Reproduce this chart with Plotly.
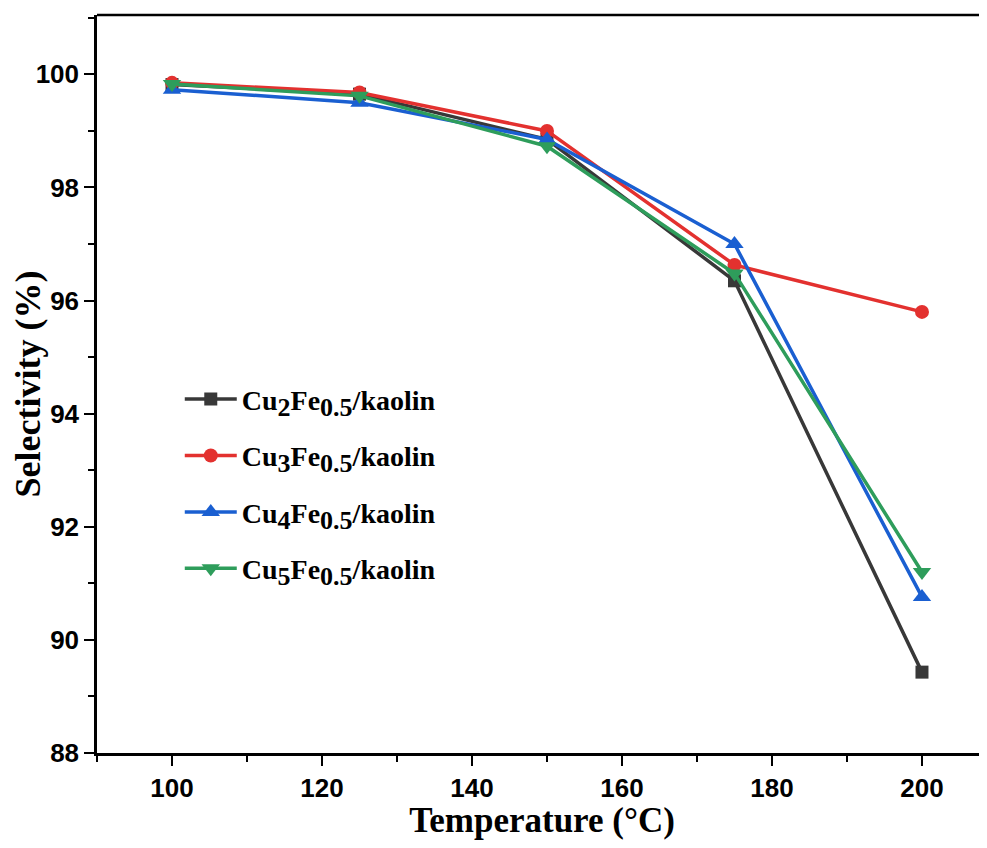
import plotly.graph_objects as go

temperature = [100, 125, 150, 175, 200]
cu2 = [99.82, 99.65, 98.85, 96.35, 89.43]
cu3 = [99.85, 99.68, 99.00, 96.63, 95.80]
cu4 = [99.73, 99.50, 98.85, 97.00, 90.76]
cu5 = [99.83, 99.62, 98.73, 96.48, 91.20]


def sub(t):
    return "<sub><span style='font-size:26px'>" + t + "</span></sub>"


names = ["Cu" + sub("2") + "Fe" + sub("0.5") + "/kaolin",
         "Cu" + sub("3") + "Fe" + sub("0.5") + "/kaolin",
         "Cu" + sub("4") + "Fe" + sub("0.5") + "/kaolin",
         "Cu" + sub("5") + "Fe" + sub("0.5") + "/kaolin"]
colors = ["#383838", "#e3312f", "#1a5fd1", "#2e9d5b"]
symbols = ["square", "circle", "triangle-up", "triangle-down"]
sizes = [13, 14, 16, 16]
series = [cu2, cu3, cu4, cu5]

fig = go.Figure()
for i, (s, n, c, m, sz) in enumerate(zip(series, names, colors, symbols, sizes)):
    fig.add_trace(go.Scatter(
        x=temperature, y=s, name=n, mode="lines+markers",
        line=dict(color=c, width=3.5),
        marker=dict(symbol=m, size=sz, color=c),
        legendgroup=f"g{i}",
    ))

# page body has an 8px margin: offsets compensate so the plot lands where the reference has it
fig.update_layout(
    width=979, height=832,
    margin=dict(l=89, r=0, t=7, b=87),
    plot_bgcolor="white", paper_bgcolor="white",
    showlegend=True,
    legend=dict(x=0.093, y=0.513, xanchor="left", yanchor="top",
                font=dict(family="Liberation Serif", size=28, color="black", weight="bold"),
                bgcolor="rgba(0,0,0,0)", tracegroupgap=17, itemwidth=52),
    xaxis=dict(range=[90, 208.67], tick0=100, dtick=20, showgrid=False, zeroline=False,
               automargin=False,
               showline=True, linecolor="black", linewidth=2.5,
               ticks="outside", ticklen=10, tickwidth=2, tickcolor="black",
               minor=dict(dtick=10, tick0=100, ticks="outside", ticklen=6, tickwidth=2, tickcolor="black"),
               tickfont=dict(family="Liberation Sans", size=26, color="black", weight="bold"),
               title=dict(text="Temperature (°C)", standoff=8,
                          font=dict(family="Liberation Serif", size=35, color="black", weight="bold"))),
    yaxis=dict(range=[88, 101.05], tick0=88, dtick=2, showgrid=False, zeroline=False,
               automargin=False,
               showline=True, linecolor="black", linewidth=2.5,
               ticks="outside", ticklen=10, tickwidth=2, tickcolor="black",
               minor=dict(dtick=1, tick0=88, ticks="outside", ticklen=6, tickwidth=2, tickcolor="black"),
               tickfont=dict(family="Liberation Sans", size=26, color="black", weight="bold"),
               title=dict(text="Selectivity (%)", standoff=10,
                          font=dict(family="Liberation Serif", size=36, color="black", weight="bold"))),
    shapes=[dict(type="line", xref="paper", yref="paper", x0=0, x1=1, y0=1, y1=1,
                 line=dict(color="black", width=2.5))],
)

fig.write_html("out.html")
